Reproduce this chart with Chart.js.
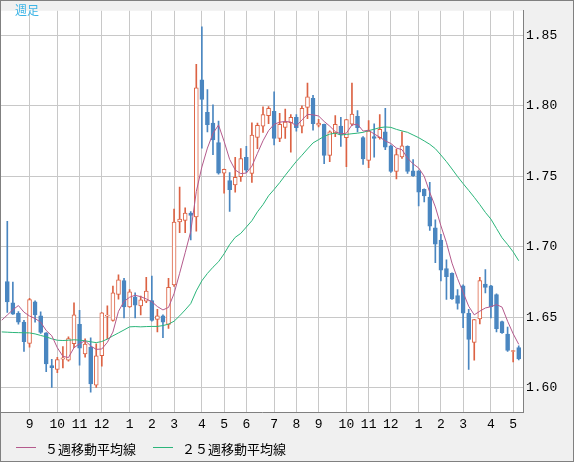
<!DOCTYPE html>
<html>
<head>
<meta charset="utf-8">
<style>
html, body { margin: 0; padding: 0; background: #f0f0f0; }
canvas { display: block; }
</style>
<script src="https://cdn.jsdelivr.net/npm/chart.js@4.4.1/dist/chart.umd.min.js"></script>
</head>
<body>
<canvas id="myChart" width="574" height="462"></canvas>
<script>
// weekly candles, oldest first (week 1 .. 93)
const openPrices = [
    1.6753, 1.6602, 1.6526, 1.6464, 1.6314, 1.6609, 1.6510, 1.6388, 1.6157, 1.6129,
    1.6201, 1.6194, 1.6312, 1.6448, 1.6239, 1.6287, 1.6017, 1.6226, 1.6507, 1.6476,
    1.6661, 1.6760, 1.6573, 1.6642, 1.6580, 1.6614, 1.6618, 1.6483, 1.6510, 1.6448,
    1.6729, 1.7175, 1.7186, 1.7238, 1.7210, 1.8184, 1.7953, 1.7877, 1.7738, 1.7521,
    1.7468, 1.7438, 1.7496, 1.7634, 1.7519, 1.7775, 1.7854, 1.7930, 1.7960, 1.7768,
    1.7846, 1.7879, 1.7918, 1.7854, 1.7988, 1.8052, 1.7861, 1.7868, 1.7648, 1.7807,
    1.7856, 1.7773, 1.7868, 1.7925, 1.7773, 1.7611, 1.7780, 1.7773, 1.7814, 1.7715,
    1.7533, 1.7636, 1.7711, 1.7537, 1.7537, 1.7406, 1.7352, 1.7134, 1.7046, 1.6845,
    1.6810, 1.6653, 1.6722, 1.6526, 1.6321, 1.6487, 1.6734, 1.6722, 1.6660, 1.6469,
    1.6379, 1.6256, 1.6284
];
const highPrices = [
    1.7179, 1.6748, 1.6540, 1.6478, 1.6634, 1.6616, 1.6538, 1.6390, 1.6201, 1.6215,
    1.6291, 1.6360, 1.6602, 1.6549, 1.6346, 1.6353, 1.6310, 1.6533, 1.6580, 1.6720,
    1.6800, 1.6776, 1.6696, 1.6672, 1.6649, 1.6783, 1.6792, 1.6556, 1.6516, 1.6776,
    1.7267, 1.7422, 1.7276, 1.7249, 1.8294, 1.8560, 1.8114, 1.8006, 1.7891, 1.7551,
    1.7526, 1.7634, 1.7695, 1.7711, 1.7879, 1.7877, 1.7992, 1.7994, 1.8098, 1.7946,
    1.7976, 1.7937, 1.7937, 1.7999, 1.8161, 1.8073, 1.7904, 1.7870, 1.7821, 1.7930,
    1.7918, 1.7904, 1.8161, 1.7965, 1.7780, 1.7895, 1.7872, 1.7937, 1.7981, 1.7720,
    1.7692, 1.7814, 1.7715, 1.7618, 1.7540, 1.7410, 1.7456, 1.7191, 1.7087, 1.6907,
    1.6815, 1.6695, 1.6729, 1.6556, 1.6485, 1.6783, 1.6838, 1.6725, 1.6665, 1.6472,
    1.6429, 1.6265, 1.6296
];
const lowPrices = [
    1.6533, 1.6519, 1.6450, 1.6256, 1.6286, 1.6464, 1.6385, 1.6113, 1.6002, 1.6106,
    1.6139, 1.6187, 1.6284, 1.6159, 1.6215, 1.5967, 1.6002, 1.6152, 1.6348, 1.6471,
    1.6627, 1.6494, 1.6568, 1.6494, 1.6515, 1.6602, 1.6471, 1.6395, 1.6355, 1.6419,
    1.6717, 1.7099, 1.7099, 1.7048, 1.7110, 1.7699, 1.7814, 1.7653, 1.7515, 1.7380,
    1.7249, 1.7387, 1.7463, 1.7526, 1.7456, 1.7695, 1.7810, 1.7872, 1.7722, 1.7745,
    1.7768, 1.7671, 1.7819, 1.7807, 1.7907, 1.7826, 1.7849, 1.7588, 1.7602, 1.7780,
    1.7711, 1.7567, 1.7859, 1.7814, 1.7584, 1.7560, 1.7634, 1.7762, 1.7688, 1.7526,
    1.7480, 1.7625, 1.7519, 1.7498, 1.7288, 1.7318, 1.7115, 1.6886, 1.6757, 1.6625,
    1.6625, 1.6556, 1.6425, 1.6129, 1.6194, 1.6452, 1.6672, 1.6494, 1.6395, 1.6385,
    1.6256, 1.6182, 1.6196
];
const closePrices = [
    1.6607, 1.6521, 1.6464, 1.6325, 1.6625, 1.6516, 1.6391, 1.6168, 1.6141, 1.6199,
    1.6211, 1.6348, 1.6517, 1.6280, 1.6308, 1.6026, 1.6226, 1.6530, 1.6514, 1.6672,
    1.6765, 1.6573, 1.6679, 1.6584, 1.6623, 1.6684, 1.6476, 1.6510, 1.6464, 1.6711,
    1.7175, 1.7196, 1.7238, 1.7221, 1.8126, 1.8045, 1.7865, 1.7757, 1.7521, 1.7549,
    1.7404, 1.7491, 1.7625, 1.7542, 1.7792, 1.7861, 1.7937, 1.7981, 1.7768, 1.7868,
    1.7884, 1.7918, 1.7844, 1.7981, 1.8062, 1.7872, 1.7877, 1.7648, 1.7814, 1.7868,
    1.7792, 1.7902, 1.7941, 1.7844, 1.7623, 1.7819, 1.7768, 1.7833, 1.7706, 1.7533,
    1.7653, 1.7715, 1.7533, 1.7503, 1.7387, 1.7359, 1.7145, 1.7018, 1.6833, 1.6787,
    1.6630, 1.6598, 1.6528, 1.6341, 1.6483, 1.6760, 1.6711, 1.6575, 1.6418, 1.6390,
    1.6263, 1.6263, 1.6203
];

// moving averages, first value is the week before the first candle (week 0)
const ma5 = [
    1.6478, 1.6515, 1.6552, 1.6582, 1.6535,
    1.6508, 1.6490, 1.6464, 1.6405, 1.6368, 1.6283, 1.6222, 1.6213, 1.6283, 1.6311,
    1.6333, 1.6296, 1.6271, 1.6274, 1.6321, 1.6394, 1.6541, 1.6611, 1.6641, 1.6655,
    1.6645, 1.6629, 1.6609, 1.6575, 1.6551, 1.6569, 1.6667, 1.6811, 1.6957, 1.7108,
    1.7391, 1.7565, 1.7699, 1.7803, 1.7863, 1.7747, 1.7619, 1.7544, 1.7518, 1.7522,
    1.7571, 1.7662, 1.7751, 1.7823, 1.7868, 1.7883, 1.7888, 1.7884, 1.7856, 1.7899,
    1.7938, 1.7935, 1.7927, 1.7888, 1.7855, 1.7816, 1.7800, 1.7805, 1.7863, 1.7869,
    1.7820, 1.7826, 1.7799, 1.7777, 1.7750, 1.7732, 1.7699, 1.7688, 1.7628, 1.7587,
    1.7558, 1.7499, 1.7385, 1.7282, 1.7148, 1.7028, 1.6883, 1.6773, 1.6675, 1.6577,
    1.6516, 1.6542, 1.6565, 1.6574, 1.6589, 1.6571, 1.6471, 1.6382, 1.6307
];
const ma25 = [
    1.6395, 1.6393, 1.6391, 1.6390, 1.6389, 1.6388, 1.6381, 1.6370, 1.6360, 1.6346,
    1.6336, 1.6334, 1.6336, 1.6339, 1.6337, 1.6332, 1.6325, 1.6319, 1.6327, 1.6344,
    1.6367, 1.6388, 1.6409, 1.6431, 1.6433, 1.6431, 1.6433, 1.6434, 1.6434, 1.6440,
    1.6450, 1.6471, 1.6509, 1.6551, 1.6596, 1.6686, 1.6758, 1.6810, 1.6854, 1.6893,
    1.6949, 1.7015, 1.7066, 1.7094, 1.7139, 1.7184, 1.7247, 1.7298, 1.7361, 1.7406,
    1.7454, 1.7506, 1.7556, 1.7605, 1.7648, 1.7693, 1.7736, 1.7759, 1.7782, 1.7798,
    1.7805, 1.7792, 1.7796, 1.7801, 1.7805, 1.7811, 1.7823, 1.7833, 1.7844, 1.7849,
    1.7846, 1.7832, 1.7821, 1.7811, 1.7792, 1.7773, 1.7750, 1.7726, 1.7695, 1.7650,
    1.7603, 1.7551, 1.7497, 1.7447, 1.7399, 1.7350, 1.7298, 1.7243, 1.7195, 1.7129,
    1.7063, 1.7015, 1.6963, 1.6900
];

// first week of each month
const monthTicks = [5, 10, 14, 18, 23, 27, 31, 36, 40, 44, 49, 53, 57, 62, 66, 70, 75, 79, 83, 88, 92];
const monthLabels = ['9', '10', '11', '12', '1', '2', '3', '4', '5', '6', '7', '8', '9', '10', '11', '12', '1', '2', '3', '4', '5'];
const yTicks = [1.60, 1.65, 1.70, 1.75, 1.80, 1.85];

const upColor = '#dc6243';
const downColor = '#4a86c0';
const gridColor = '#c8c8c8';
const frameColor = '#808080';

displayChart();

function displayChart() {
    const ctx = document.getElementById('myChart');

    var isUp = closePrices.map((c, i) => c >= openPrices[i]);
    var wicks = lowPrices.map((l, i) => ({ x: i + 1, y: [l, highPrices[i]] }));
    var bodies = openPrices.map((o, i) => ({ x: i + 1, y: [o, closePrices[i]] }));
    var ma5Points = ma5.map((v, i) => ({ x: i, y: v }));
    var ma25Points = ma25.map((v, i) => ({ x: i, y: v }));

    // panels, outer frame, title and legend
    const framePlugin = {
        id: 'framePlugin',
        beforeDraw(chart) {
            const c = chart.ctx, a = chart.chartArea;
            c.save();
            c.fillStyle = '#f0f0f0';
            c.fillRect(0, 0, chart.width, chart.height);
            c.fillStyle = '#ffffff';
            c.fillRect(a.left, a.top, a.right - a.left, a.bottom - a.top);
            c.restore();
        },
        afterDraw(chart) {
            const c = chart.ctx;
            c.save();
            c.strokeStyle = frameColor;
            c.lineWidth = 1;
            c.strokeRect(0.5, 0.5, chart.width - 1, chart.height - 1);

            c.textBaseline = 'middle';
            c.font = '12px "Noto Sans CJK JP"';
            c.fillStyle = '#3cb4e6';
            c.fillText('週足', 15, 10.5);

            const legendX = [16, 153];
            c.font = '13px "Noto Sans CJK JP"';
            chart.data.datasets.filter(d => d.type === 'line').forEach((d, k) => {
                const x = legendX[k];
                c.strokeStyle = d.borderColor;
                c.beginPath();
                c.moveTo(x, 447.5);
                c.lineTo(x + 20, 447.5);
                c.stroke();
                c.fillStyle = '#000000';
                c.fillText(d.label, x + 29, 449);
            });
            c.restore();
        }
    };

    Chart.defaults.font.family = '"Liberation Mono", monospace';
    Chart.defaults.font.size = 13;
    Chart.defaults.color = '#000000';

    new Chart(ctx, {
        type: 'bar',
        data: {
            datasets: [
                {
                    label: 'wick',
                    data: wicks,
                    backgroundColor: isUp.map(u => u ? upColor : downColor),
                    barThickness: 1,
                    grouped: false,
                    order: 4
                },
                {
                    label: 'body',
                    data: bodies,
                    backgroundColor: isUp.map(u => u ? '#ffffff' : downColor),
                    borderColor: isUp.map(u => u ? upColor : downColor),
                    borderWidth: 1,
                    borderSkipped: false,
                    barThickness: 4,
                    minBarLength: 1,
                    grouped: false,
                    order: 3
                },
                {
                    type: 'line',
                    label: '５週移動平均線',
                    data: ma5Points,
                    borderColor: '#b45a8c',
                    borderWidth: 1,
                    pointRadius: 0,
                    tension: 0,
                    order: 1
                },
                {
                    type: 'line',
                    label: '２５週移動平均線',
                    data: ma25Points,
                    borderColor: '#2bb57a',
                    borderWidth: 1,
                    pointRadius: 0,
                    tension: 0,
                    order: 2
                }
            ]
        },
        options: {
            responsive: false,
            animation: false,
            devicePixelRatio: 1,
            layout: { padding: { left: 1, top: 1, right: 0, bottom: 0 } },
            plugins: {
                legend: { display: false },
                tooltip: { enabled: false }
            },
            scales: {
                x: {
                    type: 'linear',
                    min: -0.133,
                    max: 93.77,
                    offset: false,
                    grid: { color: gridColor, offset: false, drawTicks: false },
                    border: { color: frameColor },
                    ticks: {
                        autoSkip: false,
                        maxRotation: 0,
                        padding: 5,
                        callback: (v) => monthLabels[monthTicks.indexOf(v)]
                    },
                    afterBuildTicks: (s) => { s.ticks = monthTicks.map(v => ({ value: v })); },
                    afterFit: (s) => { s.height = 50; }
                },
                y: {
                    position: 'right',
                    min: 1.58269,
                    max: 1.86731,
                    grid: { color: gridColor, drawTicks: false },
                    border: { color: frameColor },
                    ticks: {
                        padding: 3,
                        callback: (v) => v.toFixed(2)
                    },
                    afterBuildTicks: (s) => { s.ticks = yTicks.map(v => ({ value: v })); },
                    afterFit: (s) => { s.width = 51; }
                }
            }
        },
        plugins: [framePlugin]
    });
}
</script>
</body>
</html>
